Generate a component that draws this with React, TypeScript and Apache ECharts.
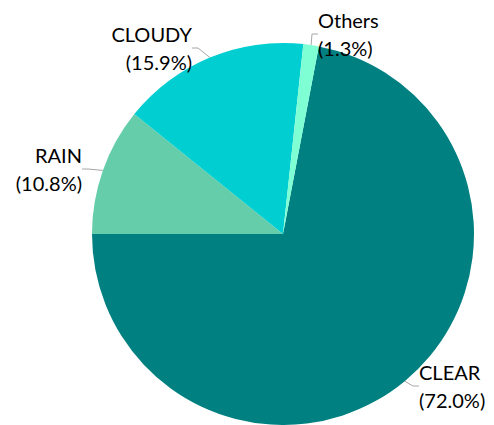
import React, { useEffect, useRef } from "react";
import * as echarts from "echarts";

const categories = ["CLEAR", "RAIN", "CLOUDY", "Others"];
const values = [72.0, 10.8, 15.9, 1.3];
const colors = ["#008080", "#66CDAA", "#00CED1", "#7FFFD4"];

// label anchor layout (pixels)
const labelX = [419, 82, 192, 318];
const labelY = [386, 169, 48, 34];
const labelAlign = ["left", "right", "right", "left"];

export default function App() {
  const ref = useRef<HTMLDivElement>(null);
  useEffect(() => {
    const chart = echarts.init(ref.current!, null, { renderer: "svg" });
    chart.setOption({
      animation: false,
      backgroundColor: "#ffffff",
      series: [
        {
          type: "pie",
          center: [283, 234],
          radius: 191,
          startAngle: 90 - 10.8,
          clockwise: true,
          data: categories.map((c, i) => ({
            name: c,
            value: values[i],
            itemStyle: { color: colors[i] },
          })),
          label: {
            show: true,
            position: "outside",
            formatter: (p: any) => `${p.name}\n(${p.value.toFixed(1)}%)`,
            fontFamily: "Lato",
            fontSize: 20,
            lineHeight: 28,
            color: "#000000",
            overflow: "none",
            edgeDistance: 0,
          },
          labelLine: {
            show: true,
            length: 8,
            length2: 6,
            lineStyle: { color: "#a6a6a6", width: 1 },
          },
          labelLayout: (params: any) => {
            const i = params.dataIndex;
            return {
              x: labelX[i],
              y: labelY[i],
              align: labelAlign[i],
              verticalAlign: "middle",
            };
          },
          emphasis: { disabled: true },
        },
      ],
    });
    return () => chart.dispose();
  }, []);
  return (
    <div
      ref={ref}
      style={{ position: "absolute", left: 0, top: 0, width: 494, height: 425 }}
    />
  );
}
